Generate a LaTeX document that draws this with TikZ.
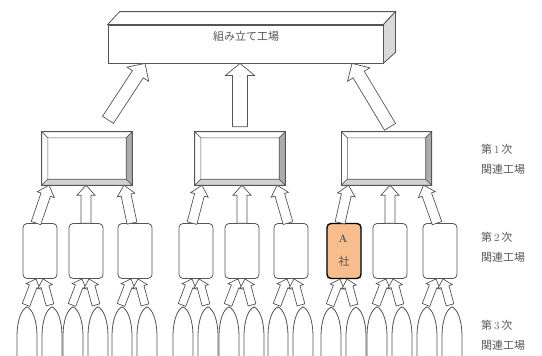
\documentclass[tikz,border=0pt]{standalone}
\usepackage{fontspec}
\newfontfamily\jp{Noto Sans CJK JP}
\usetikzlibrary{calc}
\definecolor{orangeA}{HTML}{F8BD8C}
\definecolor{txt}{HTML}{555555}
\definecolor{ln}{HTML}{555555}
\tikzset{
  arrowst/.style={draw=ln, fill=white, line width=0.7pt, line join=miter},
  l2box/.style={draw=ln, line width=0.8pt, rounded corners=4pt, minimum width=34pt, minimum height=55pt, inner sep=0pt},
  l1box/.style={minimum width=90pt, minimum height=53pt, inner sep=0pt},
  ogst/.style={draw=ln, line width=0.8pt},
  bevst/.style={draw=ln, line width=0.6pt, line join=miter},
  lab/.style={font=\jp\fontsize{11}{20}\selectfont, text=txt, align=left, anchor=west, inner sep=0pt},
}
\newcommand\blockarr[5]{%
  \path (#1) coordinate (T) (#2) coordinate (H);
  \path ($(H)!#5!(T)$) coordinate (B);
  \draw[arrowst] ($(T)!#3!-90:(H)$) -- ($(B)!#3!-90:(H)$) -- ($(B)!#4!-90:(H)$) -- (H)
     -- ($(B)!#4!90:(H)$) -- ($(B)!#3!90:(H)$) -- ($(T)!#3!90:(H)$) -- cycle;
}
\newcommand\bevel[1]{%
  \path (#1.north west) coordinate (o1) (#1.north east) coordinate (o2)
        (#1.south east) coordinate (o3) (#1.south west) coordinate (o4);
  \path ($(o1)+(6,6)$) coordinate (i1) ($(o2)+(-6,6)$) coordinate (i2)
        ($(o3)+(-6,-6)$) coordinate (i3) ($(o4)+(6,-6)$) coordinate (i4);
  \filldraw[bevst, fill=white] (o1)--(o2)--(i2)--(i1)--cycle;
  \filldraw[bevst, fill=white] (o1)--(i1)--(i4)--(o4)--cycle;
  \filldraw[bevst, fill=gray!35] (o4)--(i4)--(i3)--(o3)--cycle;
  \filldraw[bevst, fill=gray!65] (o2)--(o3)--(i3)--(i2)--cycle;
  \draw[ln, line width=0.8pt] (o1) rectangle (o3);
}
\newcommand\ogive[1]{%
  \draw[ogst] ([shift={(-10,60)}]#1) -- ([shift={(-10,30)}]#1)
     .. controls ([shift={(-10,12)}]#1) and ([shift={(-5,2)}]#1) .. (#1)
     .. controls ([shift={(5,2)}]#1) and ([shift={(10,12)}]#1) .. ([shift={(10,30)}]#1)
     -- ([shift={(10,60)}]#1);
}
\begin{document}
\begin{tikzpicture}[x=1pt,y=-1pt]
\useasboundingbox (0,0) rectangle (542,356);
\begin{scope}
\clip (0,0) rectangle (542,356);

% top assembly plant
\node[draw=ln, line width=0.8pt, minimum width=275pt, minimum height=38pt, inner sep=0pt] (top) at (245.5,44) {};
\filldraw[draw=ln, line width=0.8pt, fill=white, line join=miter] (top.north west) -- ++(12,-13) -- ($(top.north east)+(12,-13)$) -- (top.north east) -- cycle;
\filldraw[draw=ln, line width=0.8pt, fill=gray!30, line join=miter] (top.north east) -- ++(12,-13) -- ($(top.south east)+(12,-11)$) -- (top.south east) -- cycle;
\node[font=\jp\fontsize{11}{13}\selectfont, text=txt] (toplab) at (246,36) {組み立て工場};

% level 1
\node[l1box] (p1) at (87,158.5) {};
\node[l1box] (p2) at (240,158.5) {};
\node[l1box] (p3) at (386.5,158.5) {};
\bevel{p1}\bevel{p2}\bevel{p3}

% level 2
\foreach \n/\x in {c1/40,c2/86,c3/135,c4/196,c5/242,c6/291,c8/390,c9/440}
  \node[l2box] (\n) at (\x,251) {};
\node[l2box, fill=orangeA, draw=black, line width=1.4pt] (c7) at (344,251) {};
\node[font=\bfseries\fontsize{11}{13}\selectfont, text=txt] (Alab) at (343,239) {A};
\node[font=\jp\fontsize{11}{13}\selectfont, text=txt] (shalab) at (344,261) {社};

% level 3 bullets and arrows
\foreach \n in {c1,c2,c3,c4,c5,c6,c7,c8,c9}{
  \coordinate (\n L) at ($(\n.south)+(-13,28)$);
  \coordinate (\n R) at ($(\n.south)+(12,28)$);
  \ogive{\n L}
  \ogive{\n R}
}
\foreach \n in {c1,c2,c3,c4,c5,c6,c7,c8,c9}{
  \blockarr{$(\n L)+(-1,-2)$}{$(\n.south)+(-4,0)$}{4pt}{7.5pt}{8pt}
  \blockarr{$(\n R)+(-2,-2)$}{$(\n.south)+(3,0)$}{4pt}{7.5pt}{8pt}
}

% level 2 -> level 1 arrows
\foreach \p/\a/\b/\c in {p1/c1/c2/c3,p2/c4/c5/c6,p3/c7/c8/c9}{
  \blockarr{$(\a.north)+(-4,0)$}{$(\p.south)+(-38,0)$}{5pt}{9pt}{10pt}
  \blockarr{\b.north}{\b.north |- \p.south}{5pt}{9pt}{10pt}
  \blockarr{$(\c.north)+(-3,0)$}{$(\p.south)+(37,0)$}{5pt}{9pt}{10pt}
}

% level 1 -> top arrows
\blockarr{$(p1.north)+(21,-12)$}{$(top.south)+(-100.5,0)$}{6.5pt}{13pt}{13pt}
\blockarr{$(p2.north)+(0,-5)$}{p2.north |- top.south}{7.5pt}{14.5pt}{12pt}
\blockarr{$(p3.north)+(3.5,-5)$}{$(top.south)+(106.5,0)$}{6.5pt}{13pt}{13pt}

% right labels
\node[lab] (lab1) at (481,159) {第\,\textrm{1}\,次\\関連工場};
\node[lab] (lab2) at (481,247) {第\,\textrm{2}\,次\\関連工場};
\node[lab] (lab3) at (481,335) {第\,\textrm{3}\,次\\関連工場};
\end{scope}
\end{tikzpicture}
\end{document}
